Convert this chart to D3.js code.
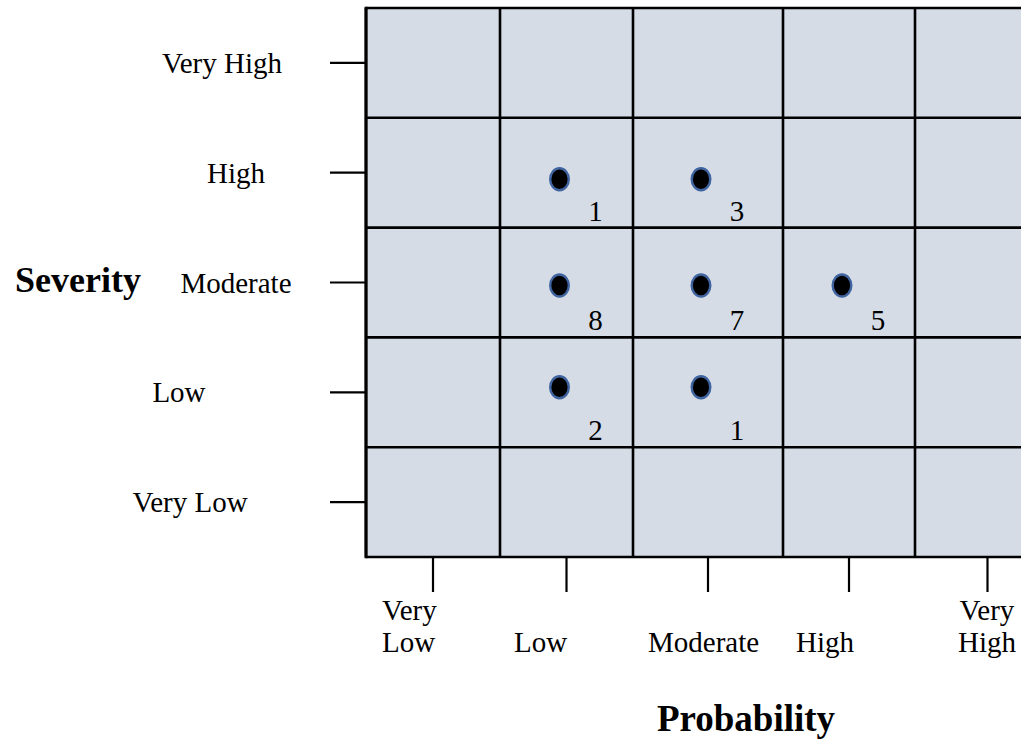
<!DOCTYPE html>
<html>
<head>
<meta charset="utf-8">
<script src="https://cdn.jsdelivr.net/npm/d3@7"></script>
<style>
  html, body { margin: 0; padding: 0; background: #ffffff; }
  svg { display: block; }
  text { font-family: "Liberation Serif", "Times New Roman", serif; fill: #000; }
</style>
</head>
<body>
<svg id="chart" width="1021" height="742"></svg>
<script>
// ---- data ----
const probabilityLevels = ["Very Low", "Low", "Moderate", "High", "Very High"];
const severityLevels = ["Very High", "High", "Moderate", "Low", "Very Low"];
const riskProbability = ["Low", "Moderate", "Low", "Moderate", "High", "Low", "Moderate"];
const riskSeverity    = ["High", "High", "Moderate", "Moderate", "Moderate", "Low", "Low"];
const riskCount       = [1, 3, 8, 7, 5, 2, 1];

// ---- layout ----
const svg = d3.select("#chart");
const gridLeft = 366, gridTop = 8, gridBottom = 557;
const colEdge = d3.scaleLinear().domain([0, 1, 2, 3, 4, 5]).range([366, 500, 633, 783, 915, 1060]);
const rowEdge = d3.scaleLinear().domain([0, 5]).range([gridTop, gridBottom]);
const xCenter = p => colEdge(probabilityLevels.indexOf(p) + 0.5);
const yCenter = s => rowEdge(severityLevels.indexOf(s) + 0.5);

const fillColor = "#d5dce6";
const lineW = 2.6;
const labelSize = 29;

// cells
const cells = [];
probabilityLevels.forEach((p, i) => severityLevels.forEach((s, j) => cells.push({ i, j })));
svg.append("g").selectAll("rect").data(cells).join("rect")
  .attr("x", d => colEdge(d.i)).attr("y", d => rowEdge(d.j))
  .attr("width", d => colEdge(d.i + 1) - colEdge(d.i))
  .attr("height", d => rowEdge(d.j + 1) - rowEdge(d.j))
  .attr("fill", fillColor);

// grid lines
const gl = svg.append("g").attr("stroke", "#000").attr("stroke-width", lineW);
d3.range(0, 6).forEach(k => {
  gl.append("line").attr("x1", colEdge(k)).attr("x2", colEdge(k))
    .attr("y1", gridTop).attr("y2", gridBottom);
  gl.append("line").attr("x1", gridLeft).attr("x2", colEdge(5))
    .attr("y1", rowEdge(k)).attr("y2", rowEdge(k));
});
gl.append("line").attr("x1", gridLeft).attr("x2", gridLeft).attr("y1", gridTop - 1.3).attr("y2", gridBottom + 1.3).attr("stroke-width", 3);

// y-axis ticks & labels
const yTickG = svg.append("g");
const yLabelX = { "Very High": 222, "High": 236, "Moderate": 236, "Low": 179, "Very Low": 190 };
severityLevels.forEach(s => {
  const y = yCenter(s);
  yTickG.append("line").attr("x1", 330).attr("x2", gridLeft).attr("y1", y).attr("y2", y)
    .attr("stroke", "#000").attr("stroke-width", 2.2);
  yTickG.append("text").attr("x", yLabelX[s]).attr("y", y + 10)
    .attr("text-anchor", "middle").attr("font-size", labelSize).text(s);
});

// x-axis ticks & labels
const xTickG = svg.append("g");
const xLabelLayout = {
  "Very Low":  { x: 382, anchor: "start" },
  "Low":       { x: 514, anchor: "start" },
  "Moderate":  { x: 648, anchor: "start" },
  "High":      { x: 796, anchor: "start" },
  "Very High": { x: 987, anchor: "middle" }
};
probabilityLevels.forEach(p => {
  const x = xCenter(p);
  xTickG.append("line").attr("x1", x).attr("x2", x).attr("y1", gridBottom).attr("y2", 592)
    .attr("stroke", "#000").attr("stroke-width", 2.2);
  const L = xLabelLayout[p];
  const words = p.split(" ");
  const t = xTickG.append("text").attr("text-anchor", L.anchor).attr("font-size", labelSize);
  if (words.length === 2) {
    t.append("tspan").attr("x", L.x).attr("y", 620).text(words[0]);
    t.append("tspan").attr("x", L.x).attr("y", 652).text(words[1]);
  } else {
    t.attr("x", L.x).attr("y", 652).text(p);
  }
});

// axis titles
svg.append("text").attr("x", 15).attr("y", 292).attr("font-size", 36)
  .attr("font-weight", "bold").text("Severity");
svg.append("text").attr("x", 746).attr("y", 731).attr("text-anchor", "middle")
  .attr("font-size", 37).attr("font-weight", "bold").text("Probability");

// risk points
const dotNudge = { "High": 6.5, "Moderate": 3, "Low": -5 };
const risks = riskCount.map((c, k) => ({ p: riskProbability[k], s: riskSeverity[k], c }));
const pg = svg.append("g");
pg.selectAll("ellipse").data(risks).join("ellipse")
  .attr("cx", d => xCenter(d.p) - 7)
  .attr("cy", d => yCenter(d.s) + dotNudge[d.s])
  .attr("rx", 9.3).attr("ry", 11)
  .attr("fill", "#000").attr("stroke", "#3f64a0").attr("stroke-width", 2.4);
pg.selectAll("text").data(risks).join("text")
  .attr("x", d => xCenter(d.p) + 29)
  .attr("y", d => rowEdge(severityLevels.indexOf(d.s) + 1) - 7)
  .attr("text-anchor", "middle").attr("font-size", labelSize)
  .text(d => d.c);
</script>
</body>
</html>
